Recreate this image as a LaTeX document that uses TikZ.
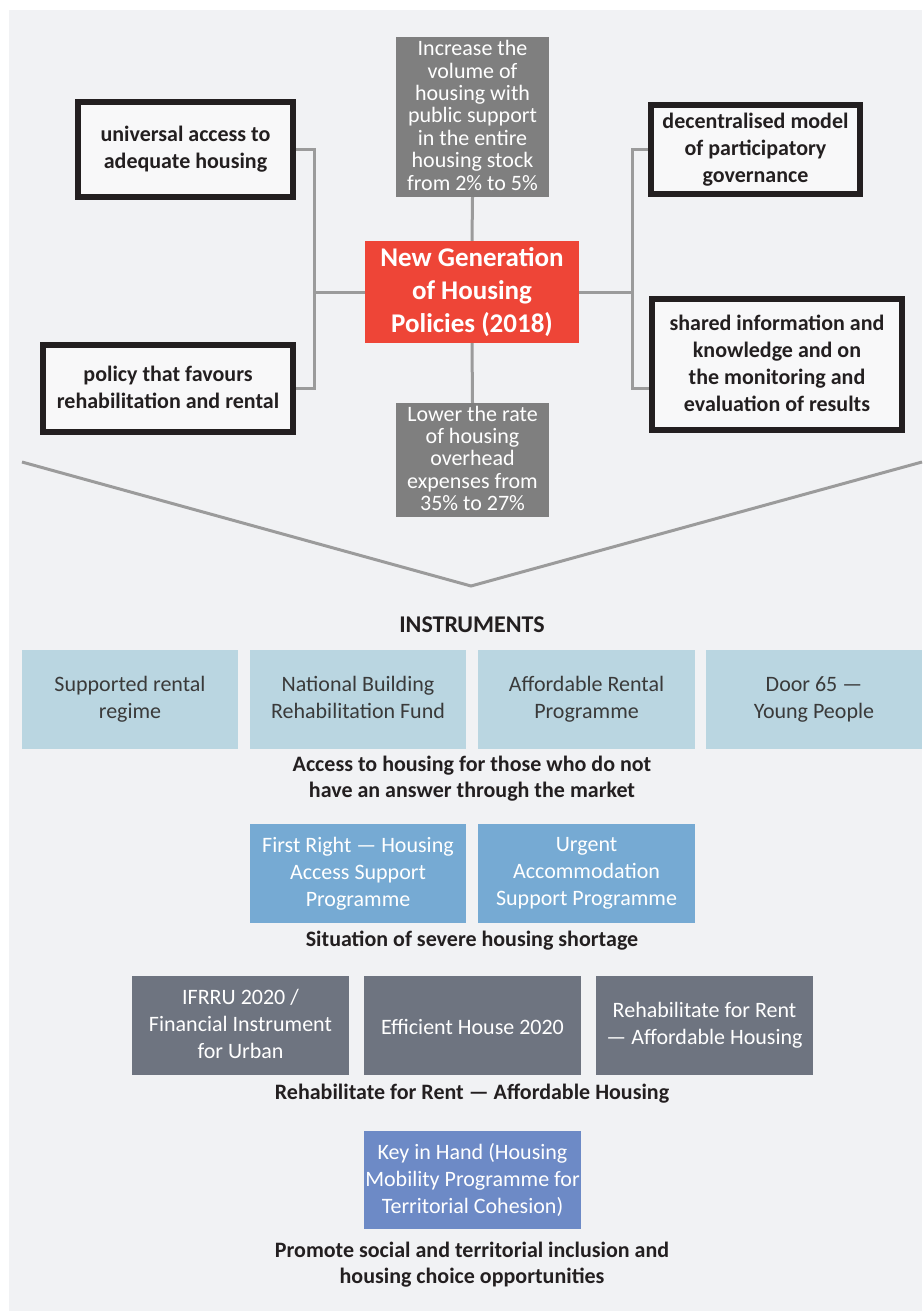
\documentclass[tikz,border=0pt]{standalone}
\usepackage{fontspec}
\setmainfont{Carlito}
\usetikzlibrary{calc}
\definecolor{bgc}{HTML}{F1F2F4}
\definecolor{linec}{HTML}{9B9B9B}
\definecolor{bordc}{HTML}{231F20}
\definecolor{boxw}{HTML}{F8F8F9}
\definecolor{grayb}{HTML}{7F7F7F}
\definecolor{redb}{HTML}{EE4537}
\definecolor{lblue}{HTML}{BAD6E1}
\definecolor{mblue}{HTML}{76AAD3}
\definecolor{dgray}{HTML}{6E7480}
\definecolor{kblue}{HTML}{6D8AC6}
\definecolor{txtd}{HTML}{3A3A3A}
\newcommand{\mystrut}{\rule[-0.15em]{0pt}{1.1em}}
\begin{document}
\begin{tikzpicture}[x=1pt,y=-1pt,
  every node/.append style={execute at begin node=\mystrut, execute at end node=\mystrut},
  goal/.style={draw=bordc, line width=6pt, fill=boxw, text=bordc, inner sep=0pt, align=center,
    font=\bfseries\fontsize{22}{27}\selectfont},
  target/.style={fill=grayb, text=white, inner sep=0pt, align=center, minimum width=153,
    font=\fontsize{22}{22.4}\selectfont},
  hub/.style={fill=redb, text=white, inner sep=0pt, align=center, minimum width=214, minimum height=102,
    font=\bfseries\fontsize{27}{33}\selectfont},
  conn/.style={draw=linec, line width=3pt},
  instr/.style={inner sep=0pt, align=center, minimum width=216, minimum height=99,
    font=\fontsize{22}{27}\selectfont},
  instra/.style={instr, fill=lblue, text=txtd},
  instrb/.style={instr, fill=mblue, text=white},
  instrc/.style={instr, fill=dgray, text=white},
  instrk/.style={instr, fill=kblue, text=white, minimum height=98},
  capt/.style={inner sep=0pt, align=center, text=bordc, font=\bfseries\fontsize{22}{26}\selectfont}
]
\useasboundingbox (0,0) rectangle (922,1311);
\fill[bgc] (9,10) rectangle (922,1311);

% top section
\node[goal, minimum width=215, minimum height=94] (univ) at (185.5,149.5) {universal access to\\adequate housing};
\node[goal, minimum width=209, minimum height=89] (decent) at (755.5,149.5) {decentralised model\\of participatory\\governance};
\node[goal, minimum width=250, minimum height=87] (policy) at (168,388.5) {policy that favours\\rehabilitation and rental};
\node[goal, minimum width=250, minimum height=131] (shared) at (777,364.5) {shared information and\\knowledge and on\\the monitoring and\\evaluation of results};
\node[target, minimum height=160] (incr) at (472.5,117) {Increase the\\volume of\\housing with\\public support\\in the entire\\housing stock\\from 2\% to 5\%};
\node[target, minimum height=114] (lower) at (472.5,460) {Lower the rate\\of housing\\overhead\\expenses from\\35\% to 27\%};
\node[hub] (hub) at (472,292) {New Generation\\of Housing\\Policies (2018)};

\coordinate (lj) at (314,292);
\coordinate (rj) at (632,292);
\draw[conn] (univ.east) -| (lj) |- (policy.east);
\draw[conn] (hub.west) -- (lj);
\draw[conn] (decent.west) -| (rj) |- (shared.west |- policy.east);
\draw[conn] (hub.east) -- (rj);
\draw[conn] (incr.south) -- (hub.north);
\draw[conn] (hub.south) -- (lower.north);

% V shape
\coordinate (vl) at (22,462);
\coordinate (vb) at (471,586);
\coordinate (vr) at (922,462);
\draw[conn] (vl) -- (vb) -- (vr);

\node[capt, font=\bfseries\fontsize{24}{28}\selectfont] (instr) at (472,623) {INSTRUMENTS};

% row 1
\node[instra] (a1) at (130,699.5) {Supported rental\\regime};
\node[instra] (a2) at (358,699.5) {National Building\\Rehabilitation Fund};
\node[instra, minimum width=217] (a3) at (586.5,699.5) {Affordable Rental\\Programme};
\node[instra] (a4) at (814,699.5) {Door 65 —\\Young People};
\node[capt] (c1) at (472,779) {Access to housing for those who do not\\have an answer through the market};

% row 2
\node[instrb] (b1) at (358,873.5) {First Right — Housing\\Access Support\\Programme};
\node[instrb, minimum width=217] (b2) at (586.5,873.5) {Urgent\\Accommodation\\Support Programme};
\node[capt] (c2) at (472,938) {Situation of severe housing shortage};

% row 3
\node[instrc, minimum width=217] (d1) at (240.5,1025.5) {IFRRU 2020 /\\Financial Instrument\\for Urban};
\node[instrc, minimum width=217] (d2) at (472.5,1025.5) {Efficient House 2020};
\node[instrc, minimum width=217] (d3) at (704.5,1025.5) {Rehabilitate for Rent\\— Affordable Housing};
\node[capt] (c3) at (472,1091) {Rehabilitate for Rent — Affordable Housing};

% row 4
\node[instrk, minimum width=217] (k1) at (472.5,1180) {Key in Hand (Housing\\Mobility Programme for\\Territorial Cohesion)};
\node[capt] (c4) at (472,1265) {Promote social and territorial inclusion and\\housing choice opportunities};
\end{tikzpicture}
\end{document}
